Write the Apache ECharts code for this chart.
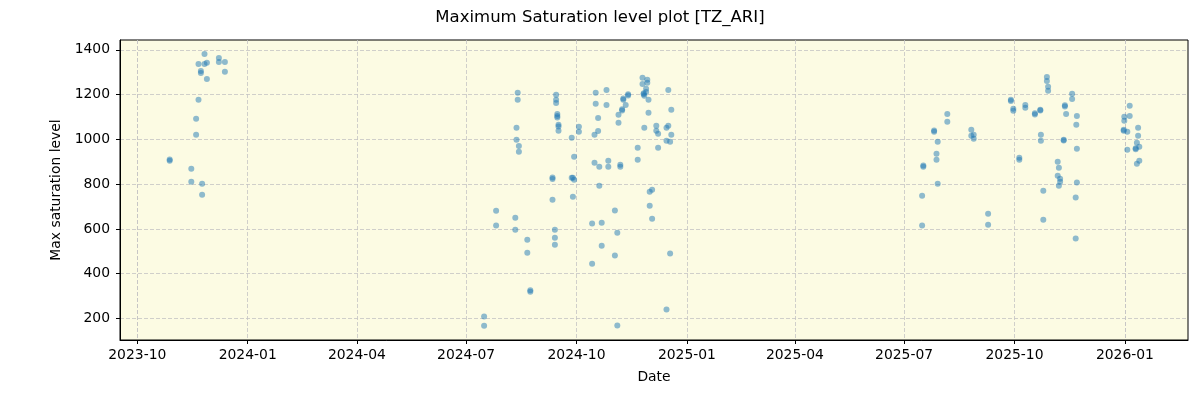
<!DOCTYPE html>
<html>
<head>
<meta charset="utf-8">
<title>Maximum Saturation level plot [TZ_ARI]</title>
<script src="https://cdn.jsdelivr.net/npm/echarts@6/dist/echarts.min.js"></script>
<style>
  html, body { margin: 0; padding: 0; background: #fff; }
  #main { width: 1200px; height: 400px; }
</style>
</head>
<body>
<div id="main"></div>
<script>
// measurements, grouped by date (several readings per date)
const dates2023 = ['2023-10-28', '2023-11-15', '2023-11-19', '2023-11-21', '2023-11-23', '2023-11-24',
  '2023-11-26', '2023-11-28', '2023-12-08', '2023-12-13'];
const values2023 = [[905, 910], [869, 811], [1092, 1021], [1337, 1177], [1306, 1297], [802, 753],
  [1382, 1337], [1342, 1270], [1364, 1346], [1346, 1302]];

const dates2024 = ['2024-07-16', '2024-07-26', '2024-08-11', '2024-08-12', '2024-08-13', '2024-08-14',
  '2024-08-21', '2024-08-23 12:00', '2024-09-11', '2024-09-13', '2024-09-14', '2024-09-15', '2024-09-16',
  '2024-09-27', '2024-09-28', '2024-09-29', '2024-10-03', '2024-10-14', '2024-10-16', '2024-10-17',
  '2024-10-19', '2024-10-20', '2024-10-22', '2024-10-26', '2024-10-27 12:00', '2024-11-02', '2024-11-04',
  '2024-11-05', '2024-11-06 12:00', '2024-11-08', '2024-11-09', '2024-11-11', '2024-11-13', '2024-11-21',
  '2024-11-25', '2024-11-26', '2024-11-26 12:00', '2024-11-28', '2024-11-29', '2024-11-30', '2024-12-01',
  '2024-12-03', '2024-12-06 12:00', '2024-12-08', '2024-12-15', '2024-12-16 12:00', '2024-12-18', '2024-12-19'];
const values2024 = [[209, 168], [681, 615], [650, 597], [1052, 998], [1208, 1177], [971, 945],
  [552, 494], [326, 320], [830, 823, 731], [597, 561, 530], [1199, 1177, 1163], [1114, 1104, 1098], [1065, 1058, 1039],
  [1007, 829], [829, 744], [820, 923], [1056, 1034], [624, 445], [1021, 896], [1208, 1159],
  [1096, 1038], [878, 793], [628, 525], [1221, 1154], [905, 878], [682, 481], [583, 169],
  [1110, 1074], [887, 878], [1135, 1129], [1183, 1177], [1154], [1202, 1196], [963, 909],
  [1275, 1248], [1206, 1202], [1195, 1052], [1226, 1212], [1266, 1253], [1177, 1119], [766, 704],
  [775, 646], [1061, 1039], [1025, 963], [1052, 994, 240], [1221, 1061], [989, 490], [1132, 1021]];

const dates2025 = ['2025-07-16', '2025-07-17', '2025-07-26', '2025-07-28', '2025-07-29', '2025-08-06',
  '2025-08-26', '2025-08-28', '2025-09-09', '2025-09-28', '2025-09-30', '2025-10-05', '2025-10-10',
  '2025-10-18', '2025-10-22 12:00', '2025-10-23', '2025-10-25', '2025-10-28', '2025-10-29', '2025-11-06',
  '2025-11-07', '2025-11-08', '2025-11-11', '2025-11-12', '2025-11-13', '2025-11-18', '2025-11-21',
  '2025-11-21 12:00', '2025-11-22', '2025-12-31', '2025-12-31 12:00', '2026-01-03', '2026-01-05',
  '2026-01-10', '2026-01-11', '2026-01-12', '2026-01-13'];
const values2025 = [[748, 615], [883, 878], [1040, 1034], [936, 909], [989, 802], [1114, 1079],
  [1043, 1016], [1021, 1003], [668, 619], [1177, 1172], [1137, 1128], [918, 909], [1154, 1141],
  [1117, 1111], [1133, 1129], [1021, 994], [771, 641], [1279, 1261], [1235, 1217], [900, 838],
  [873, 793], [824, 811], [999, 995], [1153, 1147], [1114], [1204, 1181], [740, 557],
  [1065], [1105, 958, 807], [1043, 1039], [1101, 1083], [1034, 954], [1150, 1105],
  [960, 956], [985, 891], [1052, 1016], [967, 905]];

// axis ticks
const xTicks = ['2023-10-01', '2024-01-01', '2024-04-01', '2024-07-01', '2024-10-01',
  '2025-01-01', '2025-04-01', '2025-07-01', '2025-10-01', '2026-01-01'];
const yTicks = [200, 400, 600, 800, 1000, 1200, 1400];

// flatten into [date, value] pairs
const points = [];
[[dates2023, values2023], [dates2024, values2024], [dates2025, values2025]].forEach(([ds, vs]) => {
  ds.forEach((d, i) => vs[i].forEach(v => points.push([d, v])));
});

const parse = s => echarts.time.parse(s).getTime();
const font = 'DejaVu Sans';
const gridLine = { show: true, lineStyle: { color: '#c4c4c4', width: 0.8, type: [4, 2] } };

const option = {
  animation: false,
  textStyle: { fontFamily: font },
  title: {
    text: 'Maximum Saturation level plot [TZ_ARI]',
    left: 'center',
    top: 4,
    textStyle: { fontSize: 16.5, fontWeight: 'normal', color: '#000', fontFamily: font },
  },
  grid: {
    left: 120, right: 12, top: 40, bottom: 60,
    show: true, backgroundColor: '#fcfbe3', borderColor: '#000', borderWidth: 1,
  },
  xAxis: {
    type: 'time',
    min: parse('2023-09-16 14:00'),
    max: parse('2026-02-22 14:00'),
    name: 'Date',
    nameLocation: 'middle',
    nameGap: 30,
    nameTextStyle: { fontSize: 13.9, color: '#000', fontFamily: font },
    axisLine: { show: true, lineStyle: { color: '#000', width: 1 } },
    axisTick: { show: true, length: 4, lineStyle: { color: '#000' }, customValues: xTicks.map(parse) },
    axisLabel: {
      margin: 8, fontSize: 13.9, color: '#000', fontFamily: font,
      customValues: xTicks.map(parse),
      formatter: '{yyyy}-{MM}',
    },
    splitLine: gridLine,
  },
  yAxis: {
    type: 'value',
    min: 104,
    max: 1444,
    splitNumber: 7,
    name: 'Max saturation level',
    nameLocation: 'middle',
    nameGap: 37,
    nameTextStyle: { fontSize: 13.9, color: '#000', fontFamily: font },
    axisLine: { show: true, lineStyle: { color: '#000', width: 1 } },
    axisTick: { show: true, length: 4, lineStyle: { color: '#000' }, customValues: yTicks },
    axisLabel: {
      margin: 10, fontSize: 13.9, color: '#000', fontFamily: font, customValues: yTicks,
      formatter: v => String(v),
    },
    splitLine: gridLine,
  },
  series: [{
    type: 'scatter',
    data: points,
    symbolSize: 6,
    itemStyle: { color: 'rgba(31,119,180,0.62)' },
  }],
};

const myChart = echarts.init(document.getElementById('main'));
myChart.setOption(option);
</script>
</body>
</html>
